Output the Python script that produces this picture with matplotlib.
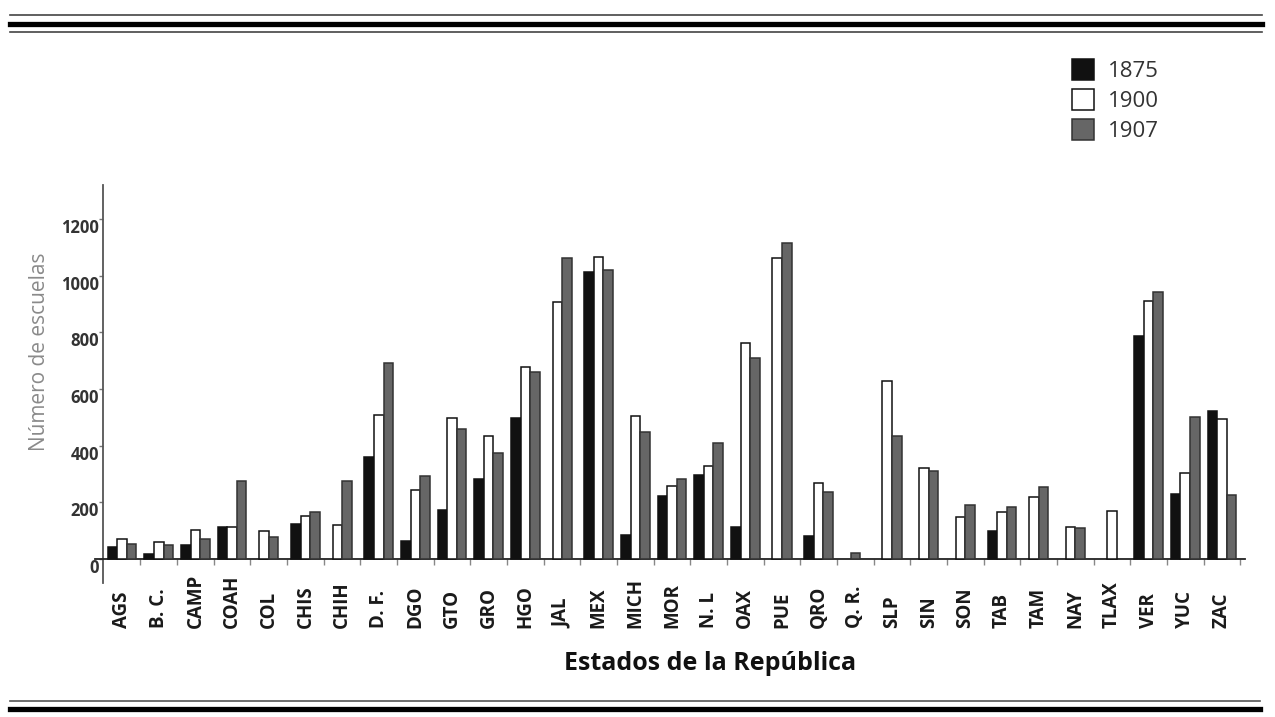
import matplotlib
matplotlib.use("Agg")
import matplotlib.pyplot as plt
import matplotlib.transforms as mtransforms
import numpy as np
from matplotlib.lines import Line2D
from matplotlib.patches import Patch


states = ['AGS', 'B. C.', 'CAMP', 'COAH', 'COL', 'CHIS', 'CHIH', 'D. F.', 'DGO', 'GTO',
          'GRO', 'HGO', 'JAL', 'MEX', 'MICH', 'MOR', 'N. L', 'OAX', 'PUE', 'QRO',
          'Q. R.', 'SLP', 'SIN', 'SON', 'TAB', 'TAM', 'NAY', 'TLAX', 'VER', 'YUC', 'ZAC']

# number of schools per state (None = no data for that year)
y1875 = [41, 16, 49, 112, None, 123, None, 361, 64, 173,
         281, 496, None, 1013, 86, 223, 298, 112, None, 82,
         None, None, None, None, 97, None, None, None, 788, 229, 523]
y1900 = [70, 59, 102, 112, 98, 150, 120, 508, 245, 496,
         435, 677, 906, 1067, 503, 259, 329, 764, 1062, 267,
         None, 628, 322, 149, 165, 218, 114, 168, 909, 303, 494]
y1907 = [53, 49, 70, 274, 79, 165, 276, 690, 292, 459,
         373, 659, 1064, 1020, 447, 282, 409, 711, 1115, 238,
         20, 435, 310, 190, 184, 255, 109, None, 941, 500, 227]

years = ['1875', '1900', '1907']
y_ticks = [0, 200, 400, 600, 800, 1000, 1200]

FACE = ['#111111', 'white', '#666666']
EDGE = ['#111111', '#111111', '#333333']
BAR_W = 0.26

fig = plt.figure(figsize=(12.75, 7.17), dpi=100)
ax = fig.add_axes([95 / 1275, 1 - 583 / 717, 1150 / 1275, 398 / 717])

series = [y1875, y1900, y1907]
for i in range(len(states)):
    # bars that exist for a state are centred on its slot
    present = [k for k in range(3) if series[k][i] is not None]
    n = len(present)
    for j, k in enumerate(present):
        x = i + (j - (n - 1) / 2) * BAR_W
        ax.bar(x, series[k][i], width=BAR_W, color=FACE[k], edgecolor=EDGE[k],
               linewidth=1.1, zorder=3)

ax.set_xlim(-0.74, 30.63)
ax.set_ylim(-85, 1320)

# axes cross each other: x-axis pokes out left, y-axis dips below zero
for side in ['top', 'right']:
    ax.spines[side].set_visible(False)
ax.spines['left'].set_position(('data', -0.52))
ax.spines['bottom'].set_position(('data', 0))
ax.spines['left'].set_bounds(-85, 1320)
ax.spines['left'].set_color('#555555')
ax.spines['bottom'].set_color('#222222')
ax.spines['left'].set_linewidth(1.3)
ax.spines['bottom'].set_linewidth(1.3)

ax.set_yticks(y_ticks)
ax.set_yticklabels([str(v) for v in y_ticks], fontfamily='Open Sans',
                   fontweight='bold', fontsize=12, color='#333333')
plt.setp(ax.get_yticklabels(), va='top')
ax.tick_params(axis='y', direction='out', length=3, width=1, color='#777777', pad=0)

# state names: rotated, all ending on a common baseline below the axis
ax.set_xticks(np.arange(len(states)))
ax.set_xticklabels([])
ax.tick_params(axis='x', length=0)
ax.set_xticks(np.arange(len(states)) + 0.5, minor=True)
ax.tick_params(axis='x', which='minor', direction='out', length=4, width=1, color='#888888')
trans = mtransforms.blended_transform_factory(ax.transData, ax.transAxes)
for i, name in enumerate(states):
    ax.text(i, (583 - 628) / 398, name, transform=trans, rotation=90, ha='center',
            va='bottom', fontfamily='Open Sans', fontweight='bold', fontsize=13.5,
            color='#1a1a1a')

fig.text(40 / 1275, 1 - 352 / 717, 'Número de escuelas', rotation=90, ha='center',
         va='center', fontsize=15, color='#8a8a8a', fontfamily='Open Sans')
fig.text(710 / 1275, 1 - 663 / 717, 'Estados de la República', ha='center', va='center',
         fontsize=18, fontweight='bold', fontfamily='Open Sans', color='#111111')

handles = [Patch(facecolor=FACE[k], edgecolor=EDGE[k], linewidth=1.1) for k in range(3)]
fig.legend(handles, years, loc='upper left', bbox_to_anchor=(1072 / 1275, 1 - 59 / 717),
           frameon=False, borderpad=0, borderaxespad=0, handlelength=1.0,
           handleheight=1.1, handletextpad=0.6, labelspacing=0.3,
           prop={'family': 'Open Sans', 'size': 16}, labelcolor='#333333')

# double rules framing the figure
for y, lw, c in [(15, 1.2, '#444444'), (24, 3.8, '#000000'), (32, 1.2, '#444444')]:
    fig.add_artist(Line2D([10 / 1275, 1262 / 1275], [1 - y / 717] * 2, lw=lw, color=c))
for y, lw, c in [(701, 1.2, '#555555'), (709, 3.8, '#000000')]:
    fig.add_artist(Line2D([10 / 1275, 1260 / 1275], [1 - y / 717] * 2, lw=lw, color=c))

fig.savefig('out.png', dpi=100)
